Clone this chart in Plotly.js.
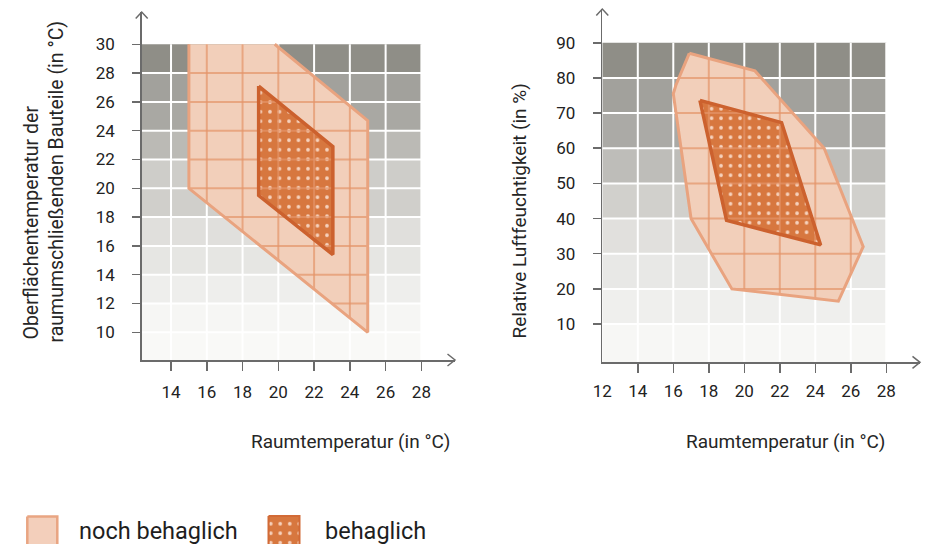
<!DOCTYPE html>
<html><head><meta charset="utf-8">
<script src="https://cdn.plot.ly/plotly-3.0.1.min.js"></script>
<style>html,body{margin:0;padding:0;background:#fff}</style>
</head><body><div id="chart" style="width:932px;height:544px"></div>
<script>
// ---------- Left chart: Raumtemperatur vs Oberflächentemperatur ----------
const leftTicksX = [14, 16, 18, 20, 22, 24, 26, 28];
const leftTicksY = [10, 12, 14, 16, 18, 20, 22, 24, 26, 28, 30];
const leftBandTops = [10, 12, 14, 16, 18, 20, 22, 24, 26, 28, 30];
const leftBandColors = ['#f9f9f7', '#f6f6f4', '#eeeeec', '#e6e6e3', '#e0dfdc', '#d0cfcb',
                        '#cecdc9', '#bbbab5', '#a9a8a3', '#a2a19c', '#8f8e87'];
const leftOuterX = [15, 19.8, 25, 25, 15];
const leftOuterY = [30, 30, 24.7, 10, 20];
const leftInnerX = [18.9, 23.05, 23.05, 18.9];
const leftInnerY = [27.1, 22.9, 15.4, 19.5];

// ---------- Right chart: Raumtemperatur vs relative Luftfeuchtigkeit ----------
const rightTicksX = [12, 14, 16, 18, 20, 22, 24, 26, 28];
const rightTicksY = [10, 20, 30, 40, 50, 60, 70, 80, 90];
const rightBandTops = [10, 20, 30, 40, 50, 60, 70, 80, 90];
const rightBandColors = ['#f7f7f5', '#efefed', '#e8e8e6', '#e1e0dd', '#d1d0cc',
                         '#bebdb9', '#abaaa6', '#a2a19c', '#8f8e87'];
const rightOuterX = [16.9, 20.6, 24.5, 26.7, 25.3, 19.3, 17.0, 16.0, 16.15];
const rightOuterY = [87, 82, 60, 32, 16.5, 20, 40, 75.5, 78];
const rightInnerX = [17.5, 22.1, 24.3, 19.0];
const rightInnerY = [73.6, 67.3, 32.5, 39.5];

const legendLabels = ['noch behaglich', 'behaglich'];

// ---------- styles ----------
const FONT = 'Roboto, "Noto Sans", sans-serif';
const AXIS_COLOR = '#6b6b6b';
const OUTER_FILL = '#f2cfba', OUTER_LINE = '#e9a37f';
const INNER_BG = '#d7773f', INNER_DOT = '#f6d2bd', INNER_LINE = '#cc612e';
const GRID_ON_POLY = 'rgba(228,148,106,0.7)';
const W = 932, H = 544;

const L = {x0: 12.36, x1: 29.88, y0: 8.08, y1: 32.24, px0: 141.7, px1: 455, py0: 360, py1: 12};
const R = {x0: 12, x1: 29.9, y0: -0.88, y1: 99.6, px0: 602.3, px1: 920, py0: 362.3, py1: 9};

function clipLine(px, py, vertical, c) {
  const pts = [];
  const n = px.length;
  for (let i = 0; i < n; i++) {
    const j = (i + 1) % n;
    const a1 = vertical ? px[i] : py[i], a2 = vertical ? px[j] : py[j];
    const b1 = vertical ? py[i] : px[i], b2 = vertical ? py[j] : px[j];
    if (a1 === a2) { if (a1 === c) { pts.push(b1, b2); } continue; }
    if ((a1 - c) * (a2 - c) <= 0) {
      const t = (c - a1) / (a2 - a1);
      pts.push(b1 + t * (b2 - b1));
    }
  }
  if (pts.length < 2) return null;
  return [Math.min(...pts), Math.max(...pts)];
}

function gridSegments(px, py, vals, hvals) {
  const xs = [], ys = [];
  vals.forEach(c => {
    const s = clipLine(px, py, true, c);
    if (s) { xs.push(c, c, null); ys.push(s[0], s[1], null); }
  });
  hvals.forEach(c => {
    const s = clipLine(px, py, false, c);
    if (s) { xs.push(s[0], s[1], null); ys.push(c, c, null); }
  });
  return {xs, ys};
}

const closed = a => a.concat([a[0]]);
const fx = p => p / W, fy = p => (H - p) / H;

const shapes = [];
function addBands(xr, yr, tops, colors, xEnd, bottom) {
  let prev = bottom;
  tops.forEach((t, i) => {
    shapes.push({type: 'rect', xref: xr, yref: yr, x0: xEnd[0], x1: xEnd[1], y0: prev, y1: t,
      fillcolor: colors[i], line: {width: 0}, layer: 'below'});
    prev = t;
  });
}
function addGrid(xr, yr, xv, yv, xlim, ylim) {
  xv.forEach(v => shapes.push({type: 'line', xref: xr, yref: yr, x0: v, x1: v, y0: ylim[0], y1: ylim[1],
    line: {color: '#ffffff', width: 2}, layer: 'below'}));
  yv.forEach(v => shapes.push({type: 'line', xref: xr, yref: yr, x0: xlim[0], x1: xlim[1], y0: v, y1: v,
    line: {color: '#ffffff', width: 2}, layer: 'below'}));
}
function addArrows(ax) {
  shapes.push({type: 'path', xref: 'paper', yref: 'paper', xsizemode: 'pixel', ysizemode: 'pixel',
    xanchor: fx(ax.px1), yanchor: fy(ax.py0), path: 'M -7.5,6 L 0,0 L -7.5,-6',
    line: {color: AXIS_COLOR, width: 1.5}});
  shapes.push({type: 'path', xref: 'paper', yref: 'paper', xsizemode: 'pixel', ysizemode: 'pixel',
    xanchor: fx(ax.px0), yanchor: fy(ax.py1), path: 'M -6,-6.5 L 0,0 L 6,-6.5',
    line: {color: AXIS_COLOR, width: 1.5}});
}

const lastLeft = leftTicksX[leftTicksX.length - 1];
const topLeft = leftTicksY[leftTicksY.length - 1];
addBands('x', 'y', leftBandTops, leftBandColors, [L.x0, lastLeft], L.y0);
addGrid('x', 'y', leftTicksX, leftTicksY.slice(0, -1), [L.x0, lastLeft], [L.y0, topLeft]);
addArrows(L);

const lastRight = rightTicksX[rightTicksX.length - 1];
const topRight = rightTicksY[rightTicksY.length - 1];
addBands('x2', 'y2', rightBandTops, rightBandColors, [R.x0, lastRight], R.y0);
addGrid('x2', 'y2', rightTicksX.slice(1), rightTicksY.slice(0, -1), [R.x0, lastRight], [R.y0, topRight]);
addArrows(R);

const gL = gridSegments(leftOuterX, leftOuterY, leftTicksX, leftTicksY.slice(0, -1));
const gR = gridSegments(rightOuterX, rightOuterY, rightTicksX.slice(1), rightTicksY.slice(0, -1));

const pattern = {shape: '.', bgcolor: INNER_BG, fgcolor: INNER_DOT, size: 9.5, solidity: 0.12, fillmode: 'replace'};

// open outline for left outer (no top edge)
const leftOuterLineX = leftOuterX.slice(1).concat([leftOuterX[0]]);
const leftOuterLineY = leftOuterY.slice(1).concat([leftOuterY[0]]);

const traces = [
  // left
  {x: closed(leftOuterX), y: closed(leftOuterY), xaxis: 'x', yaxis: 'y', mode: 'lines', fill: 'toself',
   fillcolor: OUTER_FILL, line: {width: 0}, name: legendLabels[0]},
  {x: closed(leftInnerX), y: closed(leftInnerY), xaxis: 'x', yaxis: 'y', mode: 'lines', fill: 'toself',
   fillpattern: pattern, fillcolor: INNER_BG, line: {width: 0}, name: legendLabels[1]},
  {x: gL.xs, y: gL.ys, xaxis: 'x', yaxis: 'y', mode: 'lines', line: {color: GRID_ON_POLY, width: 2}},
  {x: leftOuterLineX, y: leftOuterLineY, xaxis: 'x', yaxis: 'y', mode: 'lines',
   line: {color: OUTER_LINE, width: 3}},
  {x: closed(leftInnerX), y: closed(leftInnerY), xaxis: 'x', yaxis: 'y', mode: 'lines',
   line: {color: INNER_LINE, width: 3.5}},
  // right
  {x: closed(rightOuterX), y: closed(rightOuterY), xaxis: 'x2', yaxis: 'y2', mode: 'lines', fill: 'toself',
   fillcolor: OUTER_FILL, line: {width: 0}, name: legendLabels[0]},
  {x: closed(rightInnerX), y: closed(rightInnerY), xaxis: 'x2', yaxis: 'y2', mode: 'lines', fill: 'toself',
   fillpattern: pattern, fillcolor: INNER_BG, line: {width: 0}, name: legendLabels[1]},
  {x: gR.xs, y: gR.ys, xaxis: 'x2', yaxis: 'y2', mode: 'lines', line: {color: GRID_ON_POLY, width: 2}},
  {x: closed(rightOuterX), y: closed(rightOuterY), xaxis: 'x2', yaxis: 'y2', mode: 'lines',
   line: {color: OUTER_LINE, width: 3}},
  {x: closed(rightInnerX), y: closed(rightInnerY), xaxis: 'x2', yaxis: 'y2', mode: 'lines',
   line: {color: INNER_LINE, width: 3.5}},
  // legend swatches (pixel space)
  {x: [27.3, 57.3, 57.3, 27.3, 27.3], y: [516.5, 516.5, 552, 552, 516.5], xaxis: 'x3', yaxis: 'y3',
   mode: 'lines', fill: 'toself', fillcolor: '#f3cfbb', line: {color: '#e9a582', width: 2.5}},
  {x: [268.5, 299.5, 299.5, 268.5, 268.5], y: [516, 516, 552, 552, 516], xaxis: 'x3', yaxis: 'y3',
   mode: 'lines', fill: 'toself', fillcolor: INNER_BG, fillpattern: pattern, line: {color: '#d26a36', width: 2}}
];
traces.forEach(t => { t.showlegend = false; t.hoverinfo = 'skip'; });

const tickFont = {family: FONT, size: 17, color: '#222222'};
const baseAxis = {showgrid: false, zeroline: false, showline: true, linecolor: AXIS_COLOR, linewidth: 1.5,
  tickfont: tickFont, fixedrange: true};

const layout = {
  width: W, height: H, margin: {l: 0, r: 0, t: 0, b: 0},
  paper_bgcolor: '#ffffff', plot_bgcolor: 'rgba(0,0,0,0)', showlegend: false,
  xaxis: Object.assign({}, baseAxis, {domain: [fx(L.px0), fx(L.px1)], range: [L.x0, L.x1], anchor: 'y',
    tickmode: 'array', tickvals: leftTicksX, ticks: 'outside', ticklen: 9, tickwidth: 1.5, tickcolor: AXIS_COLOR,
    ticklabelstandoff: 7}),
  yaxis: Object.assign({}, baseAxis, {domain: [fy(L.py0), fy(L.py1)], range: [L.y0, L.y1], anchor: 'x',
    tickmode: 'array', tickvals: leftTicksY, ticks: 'outside', ticklen: 8, tickwidth: 1.5, tickcolor: AXIS_COLOR,
    ticklabelstandoff: 14}),
  xaxis2: Object.assign({}, baseAxis, {domain: [fx(R.px0), fx(R.px1)], range: [R.x0, R.x1], anchor: 'y2',
    tickmode: 'array', tickvals: rightTicksX, ticks: '',
    minor: {tickmode: 'array', tickvals: rightTicksX.slice(1), ticks: 'outside', ticklen: 9, tickwidth: 1.5, tickcolor: AXIS_COLOR},
    ticklabelstandoff: 13}),
  yaxis2: Object.assign({}, baseAxis, {domain: [fy(R.py0), fy(R.py1)], range: [R.y0, R.y1], anchor: 'x2',
    tickmode: 'array', tickvals: rightTicksY, ticks: 'outside', ticklen: 8, tickwidth: 1.5, tickcolor: AXIS_COLOR,
    ticklabelstandoff: 14}),
  xaxis3: {domain: [0, 1], range: [0, W], visible: false, fixedrange: true, anchor: 'y3'},
  yaxis3: {domain: [0, 44 / H], range: [H, 500], visible: false, fixedrange: true, anchor: 'x3'},
  shapes: shapes,
  annotations: [
    {xref: 'paper', yref: 'paper', x: fx(452), y: fy(441), xanchor: 'right', yanchor: 'middle', showarrow: false,
     text: 'Raumtemperatur (in °C)', font: {family: FONT, size: 19, color: '#262626'}},
    {xref: 'paper', yref: 'paper', x: fx(887), y: fy(441), xanchor: 'right', yanchor: 'middle', showarrow: false,
     text: 'Raumtemperatur (in °C)', font: {family: FONT, size: 19, color: '#262626'}},
    {xref: 'paper', yref: 'paper', x: fx(30.5), y: fy(342), xanchor: 'center', yanchor: 'bottom', showarrow: false,
     textangle: -90, text: 'Oberflächentemperatur der', font: {family: FONT, size: 19.5, color: '#262626'}},
    {xref: 'paper', yref: 'paper', x: fx(56), y: fy(345), xanchor: 'center', yanchor: 'bottom', showarrow: false,
     textangle: -90, text: 'raumumschließenden Bauteile (in °C)', font: {family: FONT, size: 19.5, color: '#262626'}},
    {xref: 'paper', yref: 'paper', x: fx(519), y: fy(341), xanchor: 'center', yanchor: 'bottom', showarrow: false,
     textangle: -90, text: 'Relative Luftfeuchtigkeit (in %)', font: {family: FONT, size: 19, color: '#262626'}},
    {xref: 'x3', yref: 'y3', x: 77, y: 531, xanchor: 'left', yanchor: 'middle', showarrow: false,
     text: legendLabels[0], font: {family: FONT, size: 23.5, color: '#1e1e1e'}},
    {xref: 'x3', yref: 'y3', x: 323, y: 531, xanchor: 'left', yanchor: 'middle', showarrow: false,
     text: legendLabels[1], font: {family: FONT, size: 23.5, color: '#1e1e1e'}}
  ]
};

Plotly.newPlot('chart', traces, layout, {staticPlot: true, displayModeBar: false});
</script>
</body></html>
